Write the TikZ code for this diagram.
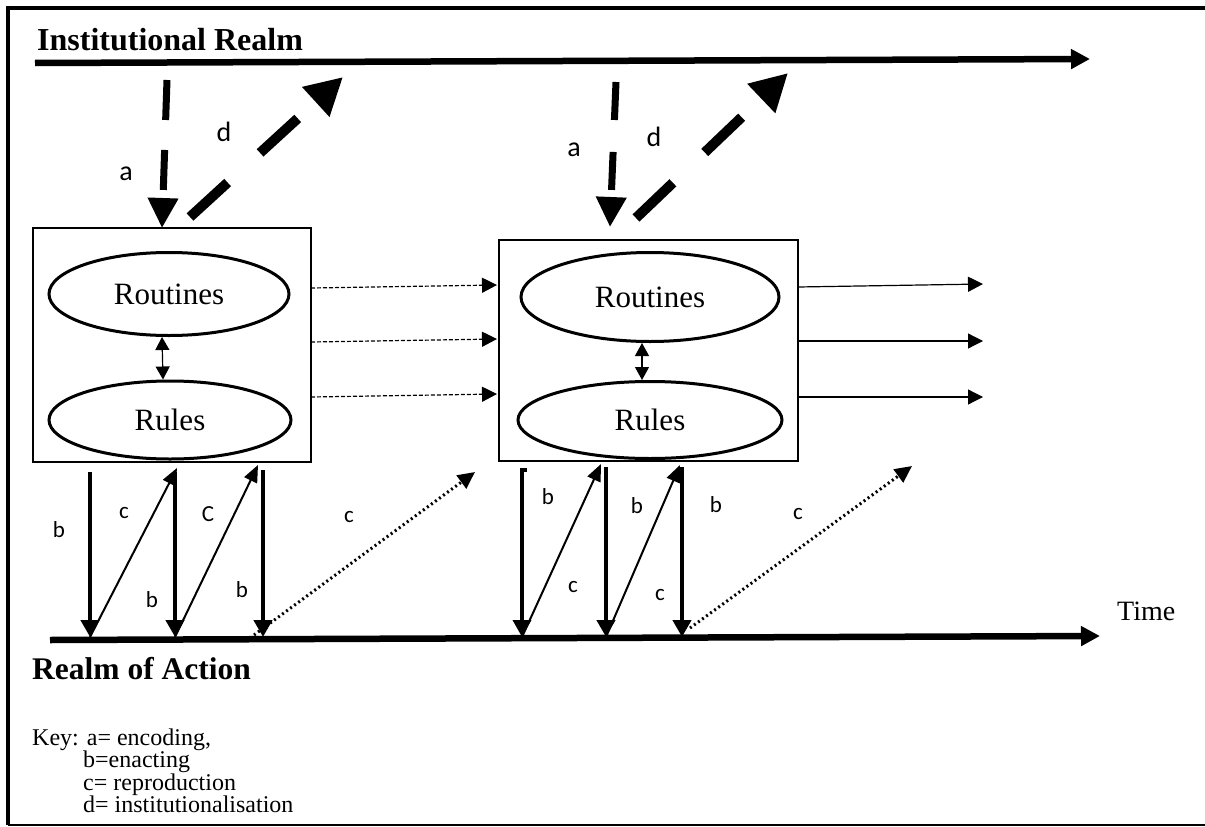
\documentclass[tikz,border=0pt]{standalone}
\usepackage{fontspec}
\setmainfont{Liberation Serif}
\newfontfamily\lblfont{Carlito}
\usetikzlibrary{arrows.meta,shapes.geometric,calc}

\begin{document}
\begin{tikzpicture}[x=1pt,y=-1pt,
  frameline/.style={line width=4pt},
  realm/.style={line width=6.5pt,-{Triangle[length=19pt,width=19pt]}},
  encode/.style={line width=7pt,dash pattern=on 40pt off 30pt,-{Triangle[length=30pt,width=29pt]}},
  instit/.style={line width=10pt,dash pattern=on 51pt off 44pt,-{Triangle[length=37pt,width=38pt]}},
  enact/.style={line width=4.5pt,-{Triangle[length=17pt,width=18pt]}},
  repro/.style={line width=2pt,-{Triangle[length=17pt,width=14pt]}},
  reprodot/.style={line width=3pt,dash pattern=on 2pt off 3pt,-{Triangle[length=17pt,width=16pt]}},
  flow/.style={line width=1.2pt,-{Triangle[length=15pt,width=15pt]}},
  flowdash/.style={flow,dash pattern=on 4pt off 2pt},
  link/.style={line width=1.2pt,{Triangle[length=13pt,width=14pt]}-{Triangle[length=13pt,width=14pt]}},
  box/.style={draw,line width=2pt,inner sep=0pt},
  oval/.style={draw,ellipse,line width=3pt,inner sep=0pt,font=\fontsize{31}{35}\selectfont},
  heading/.style={anchor=base west,inner sep=0pt,font=\bfseries\fontsize{32}{36}\selectfont},
  keytext/.style={anchor=base west,inner sep=0pt,font=\fontsize{24}{28}\selectfont},
  biglbl/.style={inner sep=0pt,font=\lblfont\fontsize{28}{32}\selectfont},
  lbl/.style={inner sep=0pt,font=\lblfont\fontsize{23}{27}\selectfont}
]
\useasboundingbox (0,0) rectangle (1205,827);

% outer frame (top, left, bottom)
\coordinate (fTL) at (8,8);
\coordinate (fTR) at (1205,8);
\coordinate (fBL) at (8,825);
\coordinate (fBR) at (1205,825);
\draw[frameline] (fTR) -- (fTL) -- (fBL);
\draw[line width=1.5pt] (fBL) -- (fBR);

% the two realms
\node[heading] (instTitle) at (37,50) {Institutional Realm};
\coordinate (ir0) at (35,63);
\coordinate (ir1) at (1090,59);
\draw[realm] (ir0) -- (ir1);

\coordinate (ar0) at (50,640);
\coordinate (ar1) at (1100,636);
\draw[realm] (ar0) -- (ar1);
\node[heading,font=\bfseries\fontsize{31.5}{36}\selectfont] (actTitle) at (32,679) {Realm of Action};
\node[anchor=base west,inner sep=0pt,font=\fontsize{28}{32}\selectfont] (time) at (1117,620) {Time};

% key
\node[keytext] (key1) at (32,745) {Key: a= encoding,};
\node[keytext] (key2) at (83,767) {b=enacting};
\node[keytext] (key3) at (83,790) {c= reproduction};
\node[keytext] (key4) at (83,812) {d= institutionalisation};

% first structure
\node[box,minimum width=278pt,minimum height=234pt] (box1) at (172,345) {};
\node[oval,minimum width=240pt,minimum height=83pt] (rout1) at (169,294) {Routines};
\node[oval,minimum width=242pt,minimum height=78pt] (rules1) at (170,420) {Rules};
\draw[link] ($(rout1.south)+(-7,0)$) -- ($(rules1.north)+(-7,0)$);

% second structure
\node[box,minimum width=299pt,minimum height=221pt] (box2) at (648.5,350.5) {};
\node[oval,minimum width=258pt,minimum height=89pt] (rout2) at (650,297) {Routines};
\node[oval,minimum width=264pt,minimum height=77pt] (rules2) at (650,420) {Rules};
\draw[link] ($(rout2.south)+(-8,0)$) -- ($(rules2.north)+(-8,0)$);

% encoding and institutionalisation, first structure
\coordinate (a1s) at (167,80);
\coordinate (a1e) at (162,228);
\draw[encode] (a1s) -- (a1e);
\coordinate (d1s) at (190,217);
\coordinate (d1e) at (343,77);
\draw[instit] (d1s) -- (d1e);
\node[biglbl] (la1) at (126,174) {a};
\node[biglbl] (ld1) at (224,132) {d};

% encoding and institutionalisation, second structure
\coordinate (a2s) at (616,82);
\coordinate (a2e) at (610,227);
\draw[encode,dash pattern=on 38pt off 32pt] (a2s) -- (a2e);
\coordinate (d2s) at (636,218);
\coordinate (d2e) at (788,73);
\draw[instit] (d2s) -- (d2e);
\node[biglbl] (la2) at (574,150) {a};
\node[biglbl] (ld2) at (654,137) {d};

% flows between and after the structures
\coordinate (f1s) at (311,288); \coordinate (f1e) at (497,285);
\coordinate (f2s) at (311,342); \coordinate (f2e) at (497,339);
\coordinate (f3s) at (311,397); \coordinate (f3e) at (497,394);
\draw[flowdash] (f1s) -- (f1e);
\draw[flowdash] (f2s) -- (f2e);
\draw[flowdash] (f3s) -- (f3e);
\coordinate (g1s) at (798,287); \coordinate (g1e) at (983,284);
\coordinate (g2s) at (798,341); \coordinate (g2e) at (983,341);
\coordinate (g3s) at (798,397); \coordinate (g3e) at (983,397);
\draw[flow] (g1s) -- (g1e);
\draw[flow] (g2s) -- (g2e);
\draw[flow] (g3s) -- (g3e);

% enacting and reproduction below the first structure
\coordinate (b1s) at (90,472);  \coordinate (b1e) at (90,637);
\coordinate (c1e) at (177,468);
\coordinate (b2s) at (175,472); \coordinate (b2e) at (175,637);
\coordinate (c2e) at (258,465);
\coordinate (b3s) at (263,470); \coordinate (b3e) at (263,637);
\coordinate (p1s) at (254,635); \coordinate (p1e) at (475,472);
\draw[enact] (b1s) -- (b1e);
\draw[repro] (b1e) -- (c1e);
\draw[enact] (b2s) -- (b2e);
\draw[repro] (b2e) -- (c2e);
\draw[enact] (b3s) -- (b3e);
\draw[reprodot] (p1s) -- (p1e);
\node[lbl] (lb1) at (59,530) {b};
\node[lbl] (lc1) at (124,513) {c};
\node[lbl] (lc2) at (208,514) {C};
\node[lbl] (lc3) at (349,517) {c};
\node[lbl] (lb2) at (152,600) {b};
\node[lbl] (lb3) at (242,590) {b};

% enacting and reproduction below the second structure
\coordinate (b4t) at (527,470);
\coordinate (b4s) at (522,470); \coordinate (b4e) at (522,637);
\coordinate (c4e) at (601,464);
\coordinate (b5s) at (606,467); \coordinate (b5e) at (606,637);
\coordinate (c5e) at (680,465);
\coordinate (b6s) at (682,467); \coordinate (b6e) at (682,637);
\coordinate (p2s) at (690,628); \coordinate (p2e) at (912,466);
\draw[enact,line width=3.5pt] (b4t) -- (b4s) -- (b4e);
\draw[repro] (b4e) -- (c4e);
\draw[enact] (b5s) -- (b5e);
\draw[repro] (b5e) -- (c5e);
\draw[enact] (b6s) -- (b6e);
\draw[reprodot] (p2s) -- (p2e);
\node[lbl] (lb4) at (548,497) {b};
\node[lbl] (lb5) at (637,506) {b};
\node[lbl] (lb6) at (716,505) {b};
\node[lbl] (lc4) at (798,514) {c};
\node[lbl] (lc5) at (573,587) {c};
\node[lbl] (lc6) at (660,595) {c};
\end{tikzpicture}
\end{document}
